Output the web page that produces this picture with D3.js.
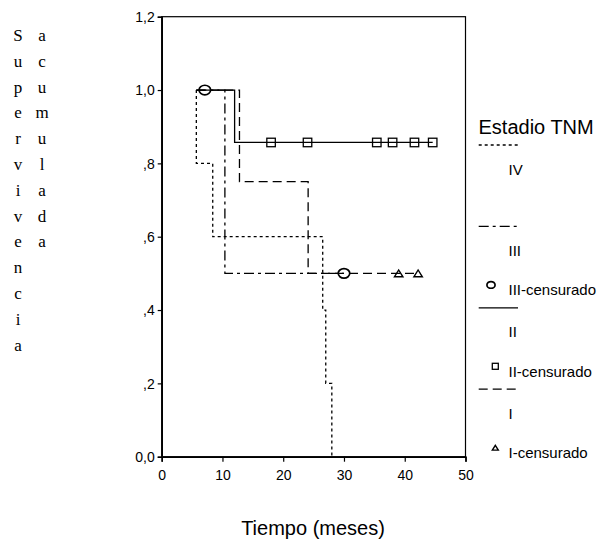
<!DOCTYPE html>
<html>
<head>
<meta charset="utf-8">
<script src="https://cdn.jsdelivr.net/npm/d3@7"></script>
<style>
  html, body { margin: 0; padding: 0; background: #fff; }
  svg { display: block; }
</style>
</head>
<body>
<svg id="chart" width="604" height="540"></svg>
<script>
// Kaplan-Meier data per TNM stage (months, cumulative survival)
const startTime = 5.7;

const stageIVTimes = [5.7, 8.4, 26.5, 27.0, 28.0];
const stageIVSurv = [0.8, 0.6, 0.4, 0.2, 0.0];
const stageIVCensored = [];

const stageIIITimes = [10.4];
const stageIIISurv = [0.5];
const stageIIICensored = [7.1, 30.0];

const stageIITimes = [12.0];
const stageIISurv = [0.857];
const stageIICensored = [18.0, 24.0, 35.4, 38.0, 41.6, 44.6];

const stageITimes = [12.8, 24.1];
const stageISurv = [0.75, 0.5];
const stageICensored = [39.0, 42.2];

const xTicks = [0, 10, 20, 30, 40, 50];
const yTicks = [0, 0.2, 0.4, 0.6, 0.8, 1.0, 1.2];
const yTickLabels = ['0,0', ',2', ',4', ',6', ',8', '1,0', '1,2'];

const series = [
  { name: 'IV', times: stageIVTimes, surv: stageIVSurv, censored: stageIVCensored, dash: '3,3', marker: null, censorLabel: null },
  { name: 'III', times: stageIIITimes, surv: stageIIISurv, censored: stageIIICensored, dash: '10,4,3,4', marker: 'circle', censorLabel: 'III-censurado' },
  { name: 'II', times: stageIITimes, surv: stageIISurv, censored: stageIICensored, dash: null, marker: 'square', censorLabel: 'II-censurado' },
  { name: 'I', times: stageITimes, surv: stageISurv, censored: stageICensored, dash: '9,5', marker: 'triangle', censorLabel: 'I-censurado' }
];

const svg = d3.select('#chart');
const frame = { left: 161.7, right: 465.5, top: 16.7, bottom: 456.7 };

const xScale = d3.scaleLinear().domain([0, 50]).range([frame.left, frame.right]);
const yScale = d3.scaleLinear().domain([0, 1.2]).range([frame.bottom, frame.top]);

// frame
svg.append('rect')
  .attr('x', frame.left)
  .attr('y', frame.top)
  .attr('width', frame.right - frame.left)
  .attr('height', frame.bottom - frame.top)
  .attr('fill', 'none')
  .attr('stroke', '#000')
  .attr('stroke-width', 1.2);

// axes
const xAxis = svg.append('g')
  .attr('transform', `translate(0,${frame.bottom})`)
  .call(d3.axisBottom(xScale).tickValues(xTicks).tickSize(5).tickPadding(8).tickFormat(d3.format('d')));
const yAxis = svg.append('g')
  .attr('transform', `translate(${frame.left},0)`)
  .call(d3.axisLeft(yScale).tickValues(yTicks).tickSize(4).tickPadding(3).tickFormat((d, i) => yTickLabels[i]));

[xAxis, yAxis].forEach(ax => {
  ax.select('.domain').attr('stroke-width', 1.6).attr('stroke', '#000');
  ax.selectAll('line').attr('stroke', '#000').attr('stroke-width', 1.2);
  ax.selectAll('text')
    .attr('fill', '#000')
    .style('font-family', 'Liberation Sans, Arial, sans-serif')
    .style('font-size', '14px');
});
yAxis.selectAll('text').attr('dy', '0.35em');

// step curve for one stage
function survivalAt(s, t) {
  let v = 1;
  s.times.forEach((et, i) => { if (et <= t) v = s.surv[i]; });
  return v;
}

function stepPath(s) {
  const end = d3.max([...s.times, ...s.censored]);
  let p = `M${xScale(startTime)},${yScale(1)}`;
  s.times.forEach((t, i) => {
    p += `H${xScale(t)}V${yScale(s.surv[i])}`;
  });
  p += `H${xScale(end)}`;
  return p;
}

function drawMarker(g, type, cx, cy, size) {
  if (type === 'circle') {
    g.append('ellipse').attr('cx', cx).attr('cy', cy)
      .attr('rx', size * 0.68).attr('ry', size * 0.56)
      .attr('fill', 'none').attr('stroke', '#000').attr('stroke-width', 1.7);
  } else if (type === 'square') {
    g.append('rect').attr('x', cx - size / 2).attr('y', cy - size / 2)
      .attr('width', size).attr('height', size)
      .attr('fill', 'none').attr('stroke', '#000').attr('stroke-width', 1.3);
  } else if (type === 'triangle') {
    const h = size * 0.8;
    g.append('path')
      .attr('d', `M${cx - size / 2},${cy + h / 2}L${cx},${cy - h / 2}L${cx + size / 2},${cy + h / 2}Z`)
      .attr('fill', 'none').attr('stroke', '#000').attr('stroke-width', 1.4);
  }
}

const plot = svg.append('g');
series.forEach(s => {
  plot.append('path')
    .attr('d', stepPath(s))
    .attr('fill', 'none')
    .attr('stroke', '#000')
    .attr('stroke-width', 1.3)
    .attr('stroke-dasharray', s.dash);
  s.censored.forEach(t => {
    drawMarker(plot, s.marker, xScale(t), yScale(survivalAt(s, t)), 8.5);
  });
});

// y label, one letter per row
const yLabelCols = ['Supervivencia', 'acumulada'];
const yLabel = svg.append('g')
  .style('font-family', 'Liberation Serif, Times New Roman, serif')
  .style('font-size', '17px');
yLabelCols.forEach((word, c) => {
  yLabel.selectAll(null)
    .data(word.split(''))
    .enter()
    .append('text')
    .attr('x', 18 + c * 24)
    .attr('y', (d, i) => 35 + i * 25.8)
    .attr('dy', '0.35em')
    .attr('text-anchor', 'middle')
    .text(d => d);
});

// x title
svg.append('text')
  .attr('x', 313)
  .attr('y', 535)
  .attr('text-anchor', 'middle')
  .style('font-family', 'Liberation Sans, Arial, sans-serif')
  .style('font-size', '20px')
  .text('Tiempo (meses)');

// legend
const legend = svg.append('g')
  .style('font-family', 'Liberation Sans, Arial, sans-serif');
legend.append('text')
  .attr('x', 478.5)
  .attr('y', 133.5)
  .style('font-size', '20px')
  .text('Estadio TNM');

series.forEach((s, i) => {
  const gy = 145 + i * 81.4;
  legend.append('line')
    .attr('x1', 478.7).attr('x2', 518)
    .attr('y1', gy).attr('y2', gy)
    .attr('stroke', '#000')
    .attr('stroke-width', 1.3)
    .attr('stroke-dasharray', s.dash);
  legend.append('text')
    .attr('x', 508.5)
    .attr('y', gy + 29.5)
    .style('font-size', '15px')
    .text(s.name);
  if (s.marker) {
    drawMarker(legend, s.marker, s.marker === 'circle' ? 491 : 495.3, gy + 58.5, 6);
    legend.append('text')
      .attr('x', 508.5)
      .attr('y', gy + 69)
      .style('font-size', '15px')
      .text(s.censorLabel);
  }
});
</script>
</body>
</html>
